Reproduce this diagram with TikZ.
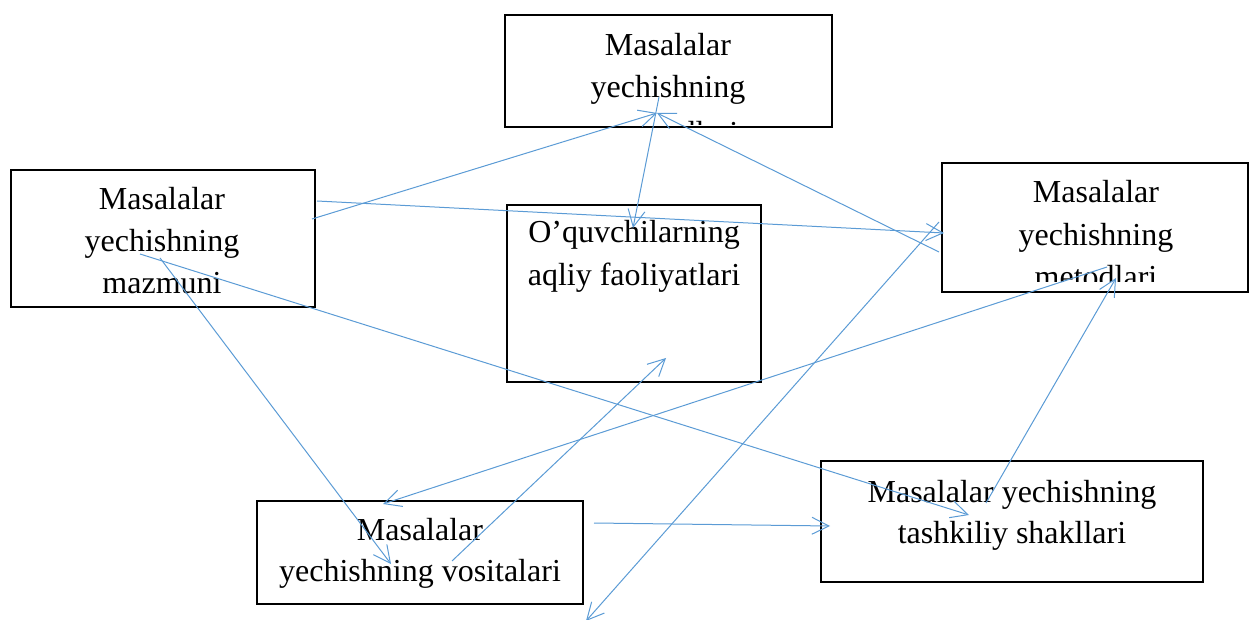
\documentclass[tikz,border=0pt]{standalone}
\usepackage{fontspec}
\setmainfont{Liberation Serif}
\usetikzlibrary{arrows.meta}
\definecolor{wblue}{RGB}{91,155,213}
\tikzset{
  box/.style={draw=black, line width=1.3pt},
  txt/.style={inner sep=0pt, anchor=base, font=\fontsize{32}{43}\selectfont},
  conn/.style={draw=wblue, line width=1pt, -{Straight Barb[length=17pt,width=17pt]}},
}
\begin{document}
\begin{tikzpicture}[x=1pt,y=-1pt]
\useasboundingbox (0,0) rectangle (1254,620);
\clip (0,0) rectangle (1254,620);
% boxes
\draw[box] (505,15) rectangle (832,127);
\draw[box] (11,170) rectangle (315,307);
\draw[box] (507,205) rectangle (761,382);
\draw[box] (942,163) rectangle (1248,292);
\draw[box] (257,501) rectangle (583,604);
\draw[box] (821,461) rectangle (1203,582);
% texts
\begin{scope}
\clip (506,16) rectangle (831,125);
\node[txt] (top1) at (668,56) {Masalalar};
\node[txt] (top2) at (668,98) {yechishning};
\node[txt] (top3) at (668,144) {maqsadlari};
\end{scope}
\node[txt] (maz1) at (162,210) {Masalalar};
\node[txt] (maz2) at (162,252) {yechishning};
\node[txt] (maz3) at (162,294) {mazmuni};
\node[txt] (oq1) at (634,243) {O’quvchilarning};
\node[txt] (oq2) at (634,286) {aqliy faoliyatlari};
\begin{scope}
\clip (943,164) rectangle (1247,282);
\node[txt] (met1) at (1096,203) {Masalalar};
\node[txt] (met2) at (1096,246) {yechishning};
\node[txt] (met3) at (1096,288) {metodlari};
\end{scope}
\node[txt] (vos1) at (420,540) {Masalalar};
\node[txt] (vos2) at (420,581) {yechishning vositalari};
\node[txt] (tas1) at (1012,502) {Masalalar yechishning};
\node[txt] (tas2) at (1012,543) {tashkiliy shakllari};
% connector end points
\coordinate (topA) at (657,113);
\coordinate (topB) at (659,97);
\coordinate (mazA) at (312,219);
\coordinate (mazB) at (317,201);
\coordinate (mazC) at (160,258);
\coordinate (mazD) at (140,254);
\coordinate (metA) at (944,233);
\coordinate (metB) at (939,252);
\coordinate (metC) at (1107,267);
\coordinate (metD) at (1116,278);
\coordinate (metE) at (939,222);
\coordinate (oqA) at (633,228);
\coordinate (oqB) at (666,358);
\coordinate (vosA) at (391,564);
\coordinate (vosB) at (383,504);
\coordinate (vosC) at (452,561);
\coordinate (vosD) at (594,523);
\coordinate (tasA) at (969,515);
\coordinate (tasB) at (986,503);
\coordinate (tasC) at (830,526);
\coordinate (freeEnd) at (586,621);
% connectors
\draw[conn] (mazA) -- (topA);
\draw[conn] (mazB) -- (metA);
\draw[conn] (metB) -- (topA);
\draw[conn] (topB) -- (oqA);
\draw[conn] (mazC) -- (vosA);
\draw[conn] (mazD) -- (tasA);
\draw[conn] (metC) -- (vosB);
\draw[conn] (tasB) -- (metD);
\draw[conn] (vosC) -- (oqB);
\draw[conn] (vosD) -- (tasC);
\draw[conn] (metE) -- (freeEnd);
\end{tikzpicture}
\end{document}
